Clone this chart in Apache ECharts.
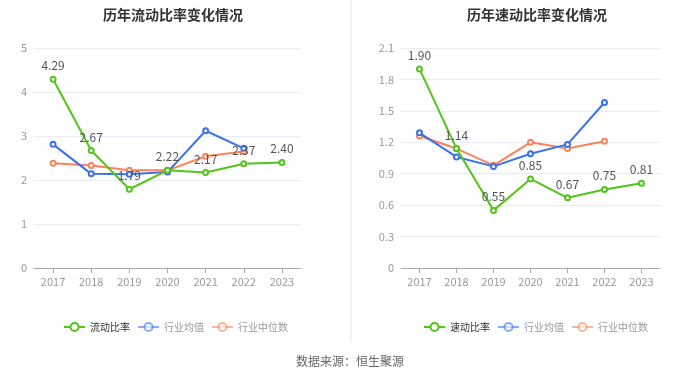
<!DOCTYPE html>
<html><head><meta charset="utf-8">
<script src="https://cdn.jsdelivr.net/npm/echarts@6/dist/echarts.min.js"></script>
<style>html,body{margin:0;padding:0;background:#fff}#c{width:700px;height:378px}</style>
</head><body><div id="c"></div>
<script>
const years = ['2017','2018','2019','2020','2021','2022','2023'];
const currentRatio = [4.29, 2.67, 1.79, 2.22, 2.17, 2.37, 2.40];
const currentIndAvg = [2.81, 2.14, 2.13, 2.18, 3.12, 2.72, null];
const currentIndMed = [2.38, 2.33, 2.22, 2.22, 2.54, 2.65, null];
const quickRatio = [1.90, 1.14, 0.55, 0.85, 0.67, 0.75, 0.81];
const quickIndAvg = [1.29, 1.06, 0.97, 1.09, 1.18, 1.58, null];
const quickIndMed = [1.26, 1.14, 0.98, 1.20, 1.14, 1.21, null];
const leftTicks = {min: 0, max: 5, interval: 1};
const rightTicks = {min: 0, max: 2.1, interval: 0.3};

const GREEN = '#52c41a', BLUE = '#3a72ee', ORANGE = '#f7845d';
const font = '"Noto Sans CJK SC", "Noto Sans", sans-serif';

function line(name, data, color, xi, withLabel, z) {
  return {
    type: 'line', name, data, xAxisIndex: xi, yAxisIndex: xi,
    symbol: 'emptyCircle', symbolSize: 5, z: z,
    lineStyle: {width: 2, color}, itemStyle: {color, borderWidth: 1.5},
    label: withLabel ? {show: true, position: 'top', distance: 4, color: '#555', fontSize: 12, fontFamily: font,
      formatter: p => p.value.toFixed(2)} : {show: false},
    emphasis: {disabled: true}
  };
}
function xAxis(gi) {
  return {type: 'category', gridIndex: gi, data: years, boundaryGap: true,
    axisLine: {lineStyle: {color: '#aaa'}}, axisTick: {show: true, alignWithLabel: true, lineStyle: {color: '#aaa'}},
    axisLabel: {color: '#999', fontSize: 11, margin: 8, fontFamily: font}};
}
function yAxis(gi, t) {
  return {type: 'value', gridIndex: gi, min: t.min, max: t.max, interval: t.interval,
    axisLine: {show: false}, axisTick: {show: false},
    splitLine: {lineStyle: {color: '#e8ecf4'}},
    axisLabel: {color: '#999', fontSize: 11, margin: 7, fontFamily: font,
      formatter: v => (t.interval < 1 ? (v === 0 ? '0' : v.toFixed(1)) : String(v))}};
}
function legend(left, first) {
  return {left: left, top: 317, itemGap: 7, itemWidth: 21, itemHeight: 10,
    textStyle: {fontSize: 10, fontFamily: font, color: '#999'},
    data: [
      {name: first, textStyle: {color: '#333'}},
      {name: '行业均值', itemStyle: {opacity: 0.6}, lineStyle: {opacity: 0.6}},
      {name: '行业中位数', itemStyle: {opacity: 0.6}, lineStyle: {opacity: 0.6}}
    ]};
}

const chart = echarts.init(document.getElementById('c'));
chart.setOption({
  animation: false,
  backgroundColor: '#fff',
  title: [
    {text: '历年流动比率变化情况', left: 168, top: 3, textAlign: 'center',
      textStyle: {fontSize: 14, fontWeight: 'bold', color: '#333', fontFamily: font}},
    {text: '历年速动比率变化情况', left: 532, top: 3, textAlign: 'center',
      textStyle: {fontSize: 14, fontWeight: 'bold', color: '#333', fontFamily: font}}
  ],
  legend: [legend(58, '流动比率'), legend(418, '速动比率')],
  grid: [
    {left: 34, right: 399, top: 48, bottom: 110},
    {left: 401, right: 40, top: 48, bottom: 110}
  ],
  xAxis: [xAxis(0), xAxis(1)],
  yAxis: [yAxis(0, leftTicks), yAxis(1, rightTicks)],
  series: [
    line('流动比率', currentRatio, GREEN, 0, true, 3),
    line('行业均值', currentIndAvg, BLUE, 0, false, 2),
    line('行业中位数', currentIndMed, ORANGE, 0, false, 1),
    line('速动比率', quickRatio, GREEN, 1, true, 3),
    line('行业均值', quickIndAvg, BLUE, 1, false, 2),
    line('行业中位数', quickIndMed, ORANGE, 1, false, 1)
  ],
  graphic: [
    {type: 'rect', shape: {x: 350, y: 0, width: 2, height: 342}, style: {fill: '#f3f3f3'}, silent: true},
    {type: 'text', x: 350, y: 361, style: {text: '数据来源：恒生聚源', fill: '#666', fontSize: 12, fontFamily: font,
      textAlign: 'center', textVerticalAlign: 'middle'}}
  ]
});
</script></body></html>
